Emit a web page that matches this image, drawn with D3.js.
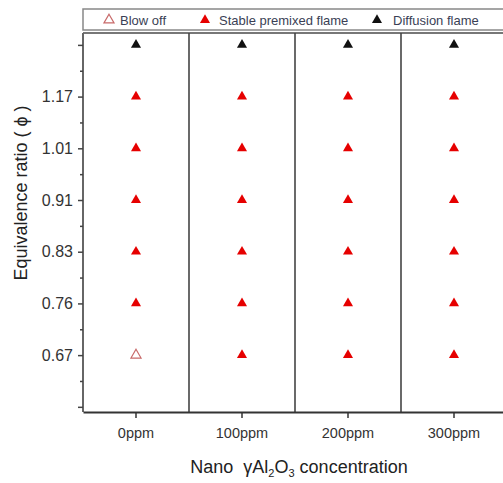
<!DOCTYPE html>
<html><head><meta charset="utf-8">
<script src="https://cdn.jsdelivr.net/npm/d3@7/dist/d3.min.js"></script>
<style>body{margin:0;background:#fff}svg{display:block}</style>
</head><body>
<script>
const categories = ["0ppm", "100ppm", "200ppm", "300ppm"];
const ratioLabels = ["", "0.67", "0.76", "0.83", "0.91", "1.01", "1.17", ""];
// flame state per ratio row (index into ratioLabels), per concentration
const state067 = ["blow", "stable", "stable", "stable"];
const state076 = ["stable", "stable", "stable", "stable"];
const state083 = ["stable", "stable", "stable", "stable"];
const state091 = ["stable", "stable", "stable", "stable"];
const state101 = ["stable", "stable", "stable", "stable"];
const state117 = ["stable", "stable", "stable", "stable"];
const stateTop = ["diffusion", "diffusion", "diffusion", "diffusion"];
const rows = [[1, state067], [2, state076], [3, state083], [4, state091], [5, state101], [6, state117], [7, stateTop]];
const legendItems = [["blow", "Blow off"], ["stable", "Stable premixed flame"], ["diffusion", "Diffusion flame"]];

(function () {
const W = 503, H = 483;
const svg = d3.select("body").append("svg").attr("width", W).attr("height", H);
const pL = 83, pR = 507, pT = 33, pB = 412;

const x = d3.scaleBand().domain(categories).range([pL, pR]);
const y = d3.scaleLinear().domain([-0.1, 7.23]).range([pB, pT]);

const fontF = "Liberation Sans, Arial, sans-serif";

// legend box
svg.append("rect").attr("x", pL).attr("y", 9).attr("width", 430).attr("height", 21)
  .attr("fill", "#fff").attr("stroke", "#888").attr("stroke-width", 1.5);

const sym = d3.symbol().type(d3.symbolTriangle).size(44);
function styleMark(sel, s) {
  if (s === "blow") sel.attr("fill", "#fff").attr("stroke", "#c86a6a").attr("stroke-width", 1.2);
  else if (s === "stable") sel.attr("fill", "#e60000");
  else sel.attr("fill", "#111");
}
const legX = [109, 205, 377];
const legT = [120, 219, 393];
legendItems.forEach((d, i) => {
  const p = svg.append("path").attr("d", sym()).attr("transform", `translate(${legX[i]},20)`);
  styleMark(p, d[0]);
  svg.append("text").attr("x", legT[i]).attr("y", 25).attr("font-family", fontF)
    .attr("font-size", 13).attr("fill", "#3a3f55").text(d[1]);
});

// plot frame
svg.append("line").attr("x1", pL).attr("x2", W).attr("y1", pT).attr("y2", pT).attr("stroke", "#777").attr("stroke-width", 2);
svg.append("line").attr("x1", pL).attr("x2", pL).attr("y1", pT).attr("y2", pB).attr("stroke", "#666").attr("stroke-width", 2);

// dividers
categories.slice(1).forEach(c => {
  svg.append("line").attr("x1", x(c)).attr("x2", x(c)).attr("y1", pT).attr("y2", pB)
    .attr("stroke", "#444").attr("stroke-width", 1.6);
});

// x axis
const xAxis = svg.append("g").attr("transform", `translate(0,${pB})`)
  .call(d3.axisBottom(x).tickSize(6).tickSizeOuter(0).tickPadding(10));
xAxis.select(".domain").attr("stroke", "#333").attr("stroke-width", 1.8);
xAxis.selectAll(".tick line").attr("stroke", "#333").attr("stroke-width", 1.5);
xAxis.selectAll("text").attr("font-family", fontF).attr("font-size", 14.5).attr("fill", "#333");

// y axis major ticks
const majors = d3.range(0, 8);
const yAxis = svg.append("g").attr("transform", `translate(${pL},0)`)
  .call(d3.axisLeft(y).tickValues(majors).tickFormat(i => ratioLabels[i]).tickSize(5).tickSizeOuter(0).tickPadding(5));
yAxis.select(".domain").remove();
yAxis.selectAll(".tick line").attr("stroke", "#444").attr("stroke-width", 1.5);
yAxis.selectAll("text").attr("font-family", fontF).attr("font-size", 16).attr("fill", "#333");
// minor ticks
const minors = d3.range(0.5, 7, 1);
svg.append("g").attr("transform", `translate(${pL},0)`)
  .call(d3.axisLeft(y).tickValues(minors).tickFormat("").tickSize(3).tickSizeOuter(0))
  .call(g => g.select(".domain").remove())
  .selectAll(".tick line").attr("stroke", "#444").attr("stroke-width", 1.5);

// markers
rows.forEach(([ri, states]) => {
  states.forEach((s, ci) => {
    const p = svg.append("path").attr("d", sym())
      .attr("transform", `translate(${x(categories[ci]) + x.bandwidth() / 2},${y(ri)})`);
    styleMark(p, s);
  });
});

// axis titles
svg.append("text").attr("transform", `translate(27,193) rotate(-90)`).attr("text-anchor", "middle")
  .attr("font-family", fontF).attr("font-size", 18).attr("fill", "#222").text("Equivalence ratio ( ϕ )");

const xt = svg.append("text").attr("x", 299).attr("y", 473).attr("text-anchor", "middle")
  .attr("font-family", fontF).attr("font-size", 18).attr("fill", "#222");
xt.append("tspan").text("Nano\u00a0\u00a0γAl");
xt.append("tspan").attr("font-size", 11).attr("dy", 4).text("2");
xt.append("tspan").attr("dy", -4).text("O");
xt.append("tspan").attr("font-size", 11).attr("dy", 4).text("3");
xt.append("tspan").attr("dy", -4).text(" concentration");
})();
</script>
</body></html>
